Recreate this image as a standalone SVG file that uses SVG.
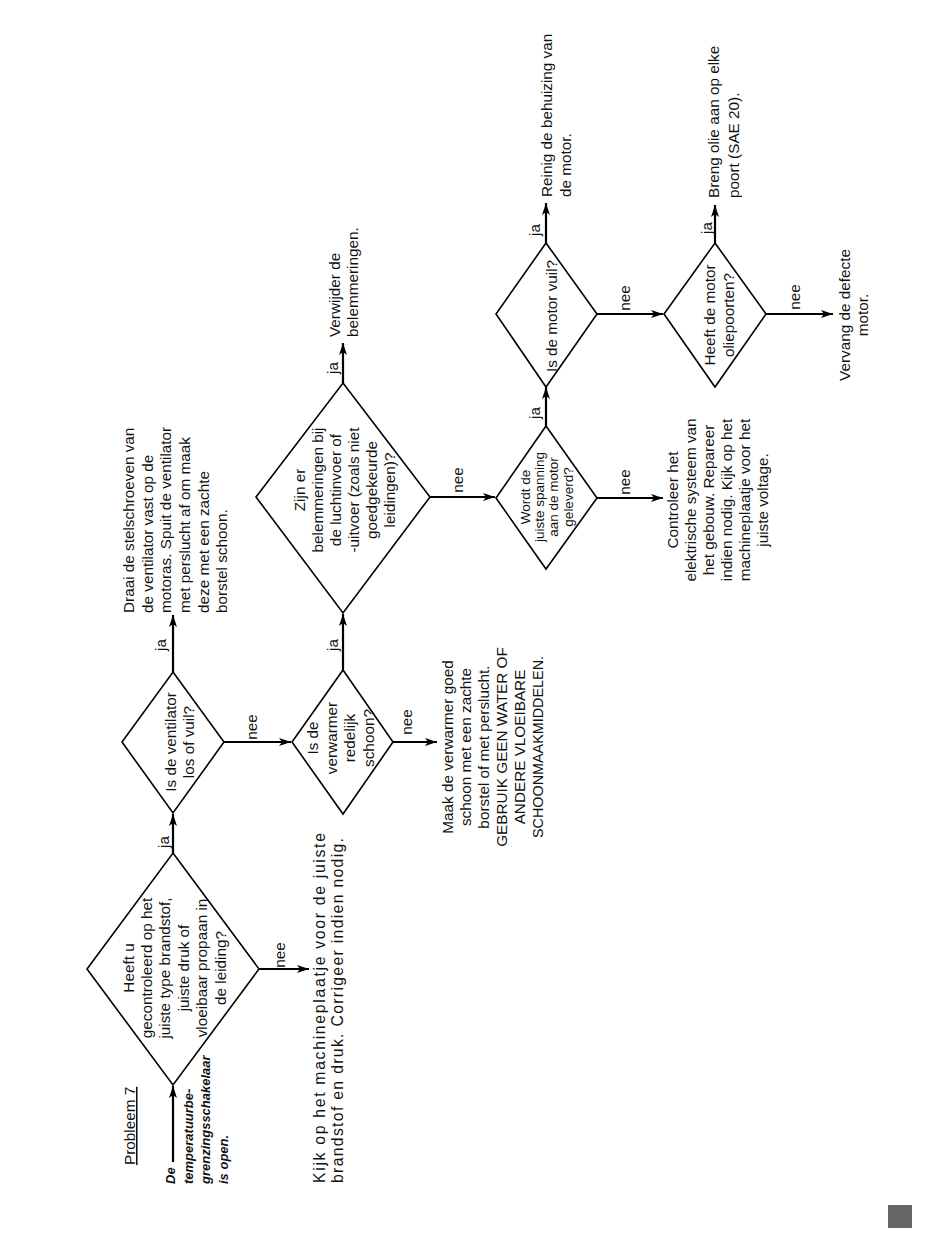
<svg xmlns="http://www.w3.org/2000/svg" width="950" height="1241" viewBox="0 0 950 1241">
<defs>
<style>
.n{fill:none;stroke:#000;stroke-width:1.6;stroke-linejoin:miter}
.c{fill:none;stroke:#000;stroke-width:2.2;marker-end:url(#a)}
text{font-family:"Liberation Sans",Arial,sans-serif;font-size:15.3px;fill:#111}
.s{font-size:13.5px}
.b{font-weight:bold;font-style:italic;font-size:13px}
.m{text-anchor:middle}
.k{font-size:15.8px}
</style>
<marker id="a" markerUnits="userSpaceOnUse" markerWidth="13" markerHeight="8" refX="12" refY="4" orient="auto">
<path d="M0,0 L12,4 L0,8 L3,4 z" fill="#000"/>
</marker>
</defs>
<rect width="950" height="1241" fill="#fff"/>

<g id="title">
<text transform="translate(135,1165) rotate(-90)" text-decoration="underline">Probleem 7</text>
<text class="b" transform="translate(175,1184) rotate(-90)"><tspan x="0" dy="0">De</tspan><tspan x="0" dy="17.5">temperatuurbe-</tspan><tspan x="0" dy="17.5">grenzingsschakelaar</tspan><tspan x="0" dy="17.5">is open.</tspan></text>
</g>

<g id="connectors">
<path class="c" d="M173,1162 V1086"/>
<path class="c" d="M173,853 V814"/>
<path class="c" d="M173,672 V615"/>
<path class="c" d="M224,742 H291"/>
<path class="c" d="M259,969 H309"/>
<path class="c" d="M343,670 V614"/>
<path class="c" d="M393,742 H437"/>
<path class="c" d="M343,383 V343"/>
<path class="c" d="M430,497 H495"/>
<path class="c" d="M546,426 V387"/>
<path class="c" d="M597,498 H663"/>
<path class="c" d="M546,243 V203"/>
<path class="c" d="M597,314 H663"/>
<path class="c" d="M715,243 V205"/>
<path class="c" d="M766,314 H833"/>
<g class="m">
<text transform="translate(168.5,842) rotate(-90)">ja</text>
<text transform="translate(166,645) rotate(-90)">ja</text>
<text transform="translate(256.5,727) rotate(-90)">nee</text>
<text transform="translate(284.5,955) rotate(-90)">nee</text>
<text transform="translate(338,645) rotate(-90)">ja</text>
<text transform="translate(412,722) rotate(-90)">nee</text>
<text transform="translate(338,368) rotate(-90)">ja</text>
<text transform="translate(463,480) rotate(-90)">nee</text>
<text transform="translate(539.5,413) rotate(-90)">ja</text>
<text transform="translate(539.5,230) rotate(-90)">ja</text>
<text transform="translate(629.5,298) rotate(-90)">nee</text>
<text transform="translate(629.5,482) rotate(-90)">nee</text>
<text transform="translate(712,228) rotate(-90)">ja</text>
<text transform="translate(799.5,297) rotate(-90)">nee</text>
</g>
</g>

<g id="d1">
<polygon class="n" points="173,853 259,969 173,1085 87,969"/>
<text class="m" transform="translate(133.5,968) rotate(-90)"><tspan x="0" dy="0">Heeft u</tspan><tspan x="0" dy="18.4">gecontroleerd op het</tspan><tspan x="0" dy="18.4">juiste type brandstof,</tspan><tspan x="0" dy="18.4">juiste druk of</tspan><tspan x="0" dy="18.4">vloeibaar propaan in</tspan><tspan x="0" dy="18.4">de leiding?</tspan></text>
</g>

<g id="r1">
<text class="k" transform="translate(325,1183) rotate(-90)"><tspan x="0" dy="0" textLength="350" lengthAdjust="spacing">Kijk op het machineplaatje voor de juiste</tspan><tspan x="0" dy="18.3" textLength="345" lengthAdjust="spacing">brandstof en druk. Corrigeer indien nodig.</tspan></text>
</g>

<g id="d2">
<polygon class="n" points="173,672 224,742 173,813 122,742"/>
<text class="m" transform="translate(176,742) rotate(-90)"><tspan x="0" dy="0">Is de ventilator</tspan><tspan x="0" dy="18.4">los of vuil?</tspan></text>
</g>

<g id="r2">
<text transform="translate(134.3,613) rotate(-90)"><tspan x="0" dy="0">Draai de stelschroeven van</tspan><tspan x="0" dy="18.6">de ventilator vast op de</tspan><tspan x="0" dy="18.6">motoras. Spuit de ventilator</tspan><tspan x="0" dy="18.6">met perslucht af om maak</tspan><tspan x="0" dy="18.6">deze met een zachte</tspan><tspan x="0" dy="18.6">borstel schoon.</tspan></text>
</g>

<g id="d3">
<polygon class="n" points="343,670 393,742 343,814 292,742"/>
<text class="m" transform="translate(318,738) rotate(-90)"><tspan x="0" dy="0">Is de</tspan><tspan x="0" dy="18.6">verwarmer</tspan><tspan x="0" dy="18.6">redelijk</tspan><tspan x="0" dy="18.6">schoon?</tspan></text>
</g>

<g id="r3">
<text class="m" transform="translate(453,747) rotate(-90)"><tspan x="0" dy="0">Maak de verwarmer goed</tspan><tspan x="0" dy="17.9">schoon met een zachte</tspan><tspan x="0" dy="17.9">borstel of met perslucht.</tspan><tspan x="0" dy="17.9">GEBRUIK GEEN WATER OF</tspan><tspan x="0" dy="17.9">ANDERE VLOEIBARE</tspan><tspan x="0" dy="17.9" textLength="182" lengthAdjust="spacingAndGlyphs">SCHOONMAAKMIDDELEN.</tspan></text>
</g>

<g id="d4">
<polygon class="n" points="343,383 430,497 343,613 256,497"/>
<text class="m" transform="translate(305,490) rotate(-90)"><tspan x="0" dy="0">Zijn er</tspan><tspan x="0" dy="17.9">belemmeringen bij</tspan><tspan x="0" dy="17.9">de luchtinvoer of</tspan><tspan x="0" dy="17.9">-uitvoer (zoals niet</tspan><tspan x="0" dy="17.9">goedgekeurde</tspan><tspan x="0" dy="17.9">leidingen)?</tspan></text>
</g>

<g id="r4">
<text transform="translate(340,337) rotate(-90)"><tspan x="0" dy="0">Verwijder de</tspan><tspan x="0" dy="18.3">belemmeringen.</tspan></text>
</g>

<g id="d5">
<polygon class="n" points="546,426 597,498 546,569 496,498"/>
<text class="m s" transform="translate(529.5,497) rotate(-90)"><tspan x="0" dy="0">Wordt de</tspan><tspan x="0" dy="14.4">juiste spanning</tspan><tspan x="0" dy="14.4">aan de motor</tspan><tspan x="0" dy="14.4">geleverd?</tspan></text>
</g>

<g id="r5">
<text class="m" transform="translate(678,500) rotate(-90)"><tspan x="0" dy="0">Controleer het</tspan><tspan x="0" dy="18">elektrische systeem van</tspan><tspan x="0" dy="18">het gebouw. Repareer</tspan><tspan x="0" dy="18">indien nodig. Kijk op het</tspan><tspan x="0" dy="18">machineplaatje voor het</tspan><tspan x="0" dy="18">juiste voltage.</tspan></text>
</g>

<g id="d6">
<polygon class="n" points="546,243 597,314 546,387 496,314"/>
<text class="m" transform="translate(557,316) rotate(-90)">Is de motor vuil?</text>
</g>

<g id="r6">
<text transform="translate(551.7,197) rotate(-90)"><tspan x="0" dy="0">Reinig de behuizing van</tspan><tspan x="0" dy="19.3">de motor.</tspan></text>
</g>

<g id="d7">
<polygon class="n" points="715,243 766,314 715,387 664,314"/>
<text class="m" transform="translate(715,315) rotate(-90)"><tspan x="0" dy="0">Heeft de motor</tspan><tspan x="0" dy="19">oliepoorten?</tspan></text>
</g>

<g id="r7">
<text transform="translate(719,198) rotate(-90)"><tspan x="0" dy="0">Breng olie aan op elke</tspan><tspan x="0" dy="20">poort (SAE 20).</tspan></text>
</g>

<g id="r8">
<text class="m" transform="translate(850,315) rotate(-90)"><tspan x="0" dy="0">Vervang de defecte</tspan><tspan x="0" dy="17.7">motor.</tspan></text>
</g>

<rect id="mark" x="888" y="1205" width="24" height="23" fill="#666"/>
</svg>
